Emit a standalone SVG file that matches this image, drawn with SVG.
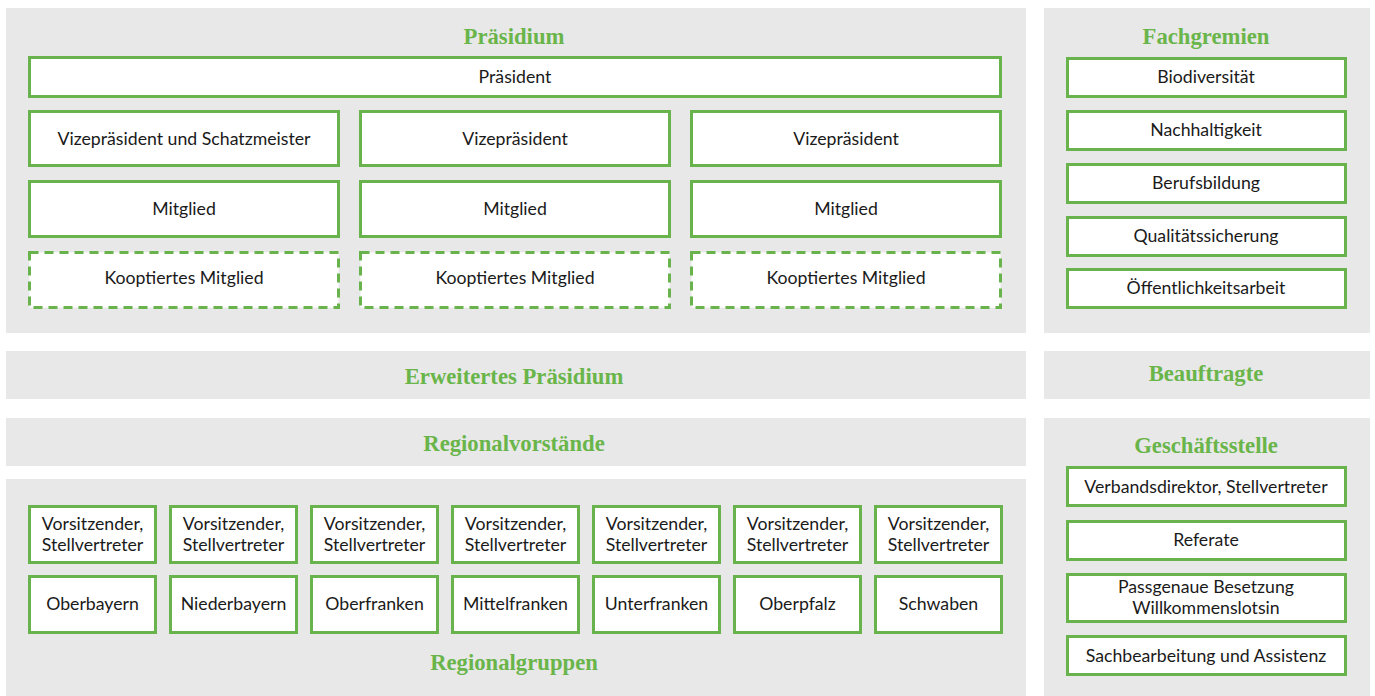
<svg xmlns="http://www.w3.org/2000/svg" width="1375" height="696" viewBox="0 0 1375 696">
<style>
.panel{fill:#e8e8e8}
.box{fill:#fff;stroke:#69b34c;stroke-width:3}
.dash{fill:#fff;stroke:#69b34c;stroke-width:3;stroke-dasharray:9 6}
.t{font-family:Lato,"Liberation Sans",sans-serif;font-size:17.7px;fill:#1a1a1a;text-anchor:middle}
.h{font-family:"Liberation Serif",serif;font-weight:bold;font-size:22.7px;fill:#6ab54a;text-anchor:middle}
</style>
<rect width="1375" height="696" fill="#fff"/>
<g id="panels">
<rect class="panel" x="6" y="8" width="1020" height="325"/>
<rect class="panel" x="1044" y="8" width="326" height="325"/>
<rect class="panel" x="6" y="351" width="1020" height="48"/>
<rect class="panel" x="1044" y="351" width="326" height="48"/>
<rect class="panel" x="6" y="418" width="1020" height="48"/>
<rect class="panel" x="6" y="479" width="1020" height="217"/>
<rect class="panel" x="1044" y="418" width="326" height="278"/>
</g>
<g id="titles">
<text class="h" x="514" y="44">Präsidium</text>
<text class="h" x="1206" y="44">Fachgremien</text>
<text class="h" x="514" y="384">Erweitertes Präsidium</text>
<text class="h" x="1206" y="381">Beauftragte</text>
<text class="h" x="514" y="451">Regionalvorstände</text>
<text class="h" x="1206" y="453">Geschäftsstelle</text>
<text class="h" x="514" y="670">Regionalgruppen</text>
</g>
<g id="praesident"><rect class="box" x="29.5" y="57.5" width="971" height="39"/><text class="t" x="515" y="83">Präsident</text></g>
<g id="vp1"><rect class="box" x="29.5" y="111.5" width="309" height="54"/><text class="t" x="184" y="145">Vizepräsident und Schatzmeister</text></g>
<g id="vp2"><rect class="box" x="360.5" y="111.5" width="309" height="54"/><text class="t" x="515" y="145">Vizepräsident</text></g>
<g id="vp3"><rect class="box" x="691.5" y="111.5" width="309" height="54"/><text class="t" x="846" y="145">Vizepräsident</text></g>
<g id="m1"><rect class="box" x="29.5" y="181.5" width="309" height="55"/><text class="t" x="184" y="215">Mitglied</text></g>
<g id="m2"><rect class="box" x="360.5" y="181.5" width="309" height="55"/><text class="t" x="515" y="215">Mitglied</text></g>
<g id="m3"><rect class="box" x="691.5" y="181.5" width="309" height="55"/><text class="t" x="846" y="215">Mitglied</text></g>
<g id="k1"><rect class="dash" x="29.5" y="252.5" width="309" height="55"/><text class="t" x="184" y="284">Kooptiertes Mitglied</text></g>
<g id="k2"><rect class="dash" x="360.5" y="252.5" width="309" height="55"/><text class="t" x="515" y="284">Kooptiertes Mitglied</text></g>
<g id="k3"><rect class="dash" x="691.5" y="252.5" width="309" height="55"/><text class="t" x="846" y="284">Kooptiertes Mitglied</text></g>
<g id="fg1"><rect class="box" x="1067.5" y="58.5" width="278" height="38"/><text class="t" x="1206" y="83">Biodiversität</text></g>
<g id="fg2"><rect class="box" x="1067.5" y="111.5" width="278" height="38"/><text class="t" x="1206" y="136">Nachhaltigkeit</text></g>
<g id="fg3"><rect class="box" x="1067.5" y="164.5" width="278" height="38"/><text class="t" x="1206" y="189">Berufsbildung</text></g>
<g id="fg4"><rect class="box" x="1067.5" y="217.5" width="278" height="38"/><text class="t" x="1206" y="242">Qualitätssicherung</text></g>
<g id="fg5"><rect class="box" x="1067.5" y="269.5" width="278" height="38"/><text class="t" x="1206" y="294">Öffentlichkeitsarbeit</text></g>
<g id="gs1"><rect class="box" x="1067.5" y="467.5" width="278" height="38"/><text class="t" x="1206" y="493">Verbandsdirektor, Stellvertreter</text></g>
<g id="gs2"><rect class="box" x="1067.5" y="521.5" width="278" height="38"/><text class="t" x="1206" y="546">Referate</text></g>
<g id="gs3"><rect class="box" x="1067.5" y="574.5" width="278" height="47"/><text class="t" x="1206" y="593">Passgenaue Besetzung</text><text class="t" x="1206" y="614">Willkommenslotsin</text></g>
<g id="gs4"><rect class="box" x="1067.5" y="636.5" width="278" height="38"/><text class="t" x="1206" y="662">Sachbearbeitung und Assistenz</text></g>
<g id="rv1"><rect class="box" x="29.5" y="506.5" width="126" height="56"/><text class="t" x="92.5" y="530">Vorsitzender,</text><text class="t" x="92.5" y="551">Stellvertreter</text></g>
<g id="rv2"><rect class="box" x="170.5" y="506.5" width="126" height="56"/><text class="t" x="233.5" y="530">Vorsitzender,</text><text class="t" x="233.5" y="551">Stellvertreter</text></g>
<g id="rv3"><rect class="box" x="311.5" y="506.5" width="126" height="56"/><text class="t" x="374.5" y="530">Vorsitzender,</text><text class="t" x="374.5" y="551">Stellvertreter</text></g>
<g id="rv4"><rect class="box" x="452.5" y="506.5" width="126" height="56"/><text class="t" x="515.5" y="530">Vorsitzender,</text><text class="t" x="515.5" y="551">Stellvertreter</text></g>
<g id="rv5"><rect class="box" x="593.5" y="506.5" width="126" height="56"/><text class="t" x="656.5" y="530">Vorsitzender,</text><text class="t" x="656.5" y="551">Stellvertreter</text></g>
<g id="rv6"><rect class="box" x="734.5" y="506.5" width="126" height="56"/><text class="t" x="797.5" y="530">Vorsitzender,</text><text class="t" x="797.5" y="551">Stellvertreter</text></g>
<g id="rv7"><rect class="box" x="875.5" y="506.5" width="126" height="56"/><text class="t" x="938.5" y="530">Vorsitzender,</text><text class="t" x="938.5" y="551">Stellvertreter</text></g>
<g id="rg1"><rect class="box" x="29.5" y="576.5" width="126" height="56"/><text class="t" x="92.5" y="610">Oberbayern</text></g>
<g id="rg2"><rect class="box" x="170.5" y="576.5" width="126" height="56"/><text class="t" x="233.5" y="610">Niederbayern</text></g>
<g id="rg3"><rect class="box" x="311.5" y="576.5" width="126" height="56"/><text class="t" x="374.5" y="610">Oberfranken</text></g>
<g id="rg4"><rect class="box" x="452.5" y="576.5" width="126" height="56"/><text class="t" x="515.5" y="610">Mittelfranken</text></g>
<g id="rg5"><rect class="box" x="593.5" y="576.5" width="126" height="56"/><text class="t" x="656.5" y="610">Unterfranken</text></g>
<g id="rg6"><rect class="box" x="734.5" y="576.5" width="126" height="56"/><text class="t" x="797.5" y="610">Oberpfalz</text></g>
<g id="rg7"><rect class="box" x="875.5" y="576.5" width="126" height="56"/><text class="t" x="938.5" y="610">Schwaben</text></g>
<g id="connectors"></g>
</svg>
